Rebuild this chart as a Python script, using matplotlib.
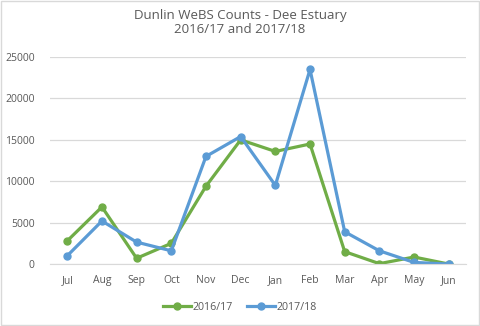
import matplotlib
matplotlib.use("Agg")
import matplotlib.pyplot as plt
from matplotlib.patches import Rectangle

months = ["Jul", "Aug", "Sep", "Oct", "Nov", "Dec", "Jan", "Feb", "Mar", "Apr", "May", "Jun"]
counts_2016 = [2800, 6900, 700, 2500, 9400, 15000, 13600, 14500, 1500, 50, 850, 0]
counts_2017 = [1000, 5200, 2650, 1600, 13000, 15400, 9500, 23500, 3900, 1600, 200, 0]
yticks = [0, 5000, 10000, 15000, 20000, 25000]

plt.rcParams['font.family'] = ['Open Sans', 'DejaVu Sans']
text_col = "#595959"

fig = plt.figure(figsize=(4.8, 3.26), dpi=100)
fig.patches.append(Rectangle((0.002, 0.003), 0.996, 0.994, transform=fig.transFigure,
                             fill=False, edgecolor="#d9d9d9", linewidth=1))
ax = fig.add_axes([0.104, 0.19, 0.867, 0.635])

x = list(range(len(months)))
ax.plot(x, counts_2016, color="#70AD47", linewidth=2.3, marker="o", markersize=5, label="2016/17")
ax.plot(x, counts_2017, color="#5B9BD5", linewidth=2.3, marker="o", markersize=5, label="2017/18")

ax.set_ylim(0, 25000)
ax.set_xlim(-0.5, 11.5)
ax.set_yticks(yticks)
ax.set_yticklabels([str(v) for v in yticks])
ax.set_xticks(x)
ax.set_xticklabels(months)
ax.tick_params(axis="both", length=0, labelsize=7.5, colors=text_col, pad=8)
ax.tick_params(axis="y", pad=11)
ax.grid(axis="y", color="#d9d9d9", linewidth=0.9)
ax.set_axisbelow(True)
for s in ["top", "right", "left"]:
    ax.spines[s].set_visible(False)
ax.spines["bottom"].set_color("#d9d9d9")

fig.text(0.5, 0.93, "Dunlin WeBS Counts - Dee Estuary\n2016/17 and 2017/18", ha="center", va="center",
         fontsize=9.5, color=text_col, linespacing=1.1)

fig.legend(loc="center", bbox_to_anchor=(0.5, 0.058), ncol=2, frameon=False, fontsize=7.7,
           labelcolor=text_col, handlelength=2.6, columnspacing=1.3, handletextpad=0.2)

fig.savefig("out.png", dpi=100)
